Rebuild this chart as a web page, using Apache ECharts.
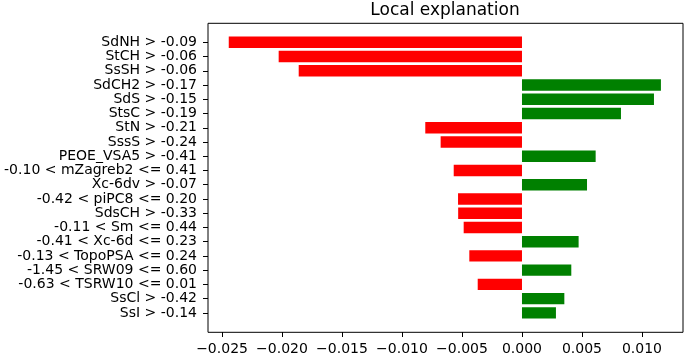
<!DOCTYPE html>
<html>
<head>
<meta charset="utf-8">
<script src="https://cdn.jsdelivr.net/npm/echarts@6/dist/echarts.min.js"></script>
<style>
html,body{margin:0;padding:0;background:#fff;}
#chart{width:685px;height:356px;}
</style>
</head>
<body>
<div id="chart"></div>
<script>
const categories = [
  "SdNH > -0.09",
  "StCH > -0.06",
  "SsSH > -0.06",
  "SdCH2 > -0.17",
  "SdS > -0.15",
  "StsC > -0.19",
  "StN > -0.21",
  "SssS > -0.24",
  "PEOE_VSA5 > -0.41",
  "-0.10 < mZagreb2 <= 0.41",
  "Xc-6dv > -0.07",
  "-0.42 < piPC8 <= 0.20",
  "SdsCH > -0.33",
  "-0.11 < Sm <= 0.44",
  "-0.41 < Xc-6d <= 0.23",
  "-0.13 < TopoPSA <= 0.24",
  "-1.45 < SRW09 <= 0.60",
  "-0.63 < TSRW10 <= 0.01",
  "SsCl > -0.42",
  "SsI > -0.14"
];
const weights = [
  -0.02444, -0.02028, -0.01861, 0.01158, 0.01100, 0.00825,
  -0.00806, -0.00678, 0.00614, -0.00569, 0.00542, -0.00533,
  -0.00532, -0.00486, 0.00472, -0.00439, 0.00411, -0.00369,
  0.00353, 0.00283
];
const xTicks = [-0.025, -0.020, -0.015, -0.010, -0.005, 0.000, 0.005, 0.010];
const xMin = -0.02617;
const xMax = 0.01342;
const titleText = "Local explanation";

const font = "'DejaVu Sans', sans-serif";
const chart = echarts.init(document.getElementById('chart'), null, {renderer: 'canvas'});
chart.setOption({
  animation: false,
  backgroundColor: '#ffffff',
  title: {
    text: titleText,
    left: 445,
    top: 2,
    padding: 0,
    textAlign: 'center',
    textStyle: {fontFamily: font, fontSize: 17, fontWeight: 'normal', color: '#000'}
  },
  grid: [
    {left: 208, right: 2, top: 35.2, bottom: 35.6},
    {left: 208, right: 2, top: 23.3, bottom: 23.7, show: true, borderColor: '#000', borderWidth: 1, backgroundColor: 'transparent', z: 0}
  ],
  xAxis: [
    {
      type: 'value', gridIndex: 0, min: xMin, max: xMax, offset: 12,
      splitLine: {show: false},
      axisLine: {show: false, onZero: false},
      axisTick: {show: true, length: 5, lineStyle: {color: '#000', width: 1}, customValues: xTicks},
      axisLabel: {
        color: '#000', fontFamily: font, fontSize: 14, margin: 10,
        customValues: xTicks,
        formatter: v => (v < 0 ? '\u2212' : '') + Math.abs(v).toFixed(3)
      }
    },
    {type: 'value', gridIndex: 1, min: 0, max: 1, show: false}
  ],
  yAxis: [
    {
      type: 'category', gridIndex: 0, data: categories, inverse: true,
      axisLine: {show: false, onZero: false},
      axisTick: {show: true, length: 5, interval: 0, alignWithLabel: true, lineStyle: {color: '#000', width: 1}},
      axisLabel: {color: '#000', fontFamily: font, fontSize: 14, margin: 11, interval: 0}
    },
    {type: 'value', gridIndex: 1, min: 0, max: 1, show: false}
  ],
  series: [{
    type: 'bar',
    xAxisIndex: 0, yAxisIndex: 0,
    data: weights,
    barWidth: '80%',
    itemStyle: {
      color: p => (p.value < 0 ? '#ff0000' : '#008000')
    }
  }]
});
</script>
</body>
</html>
